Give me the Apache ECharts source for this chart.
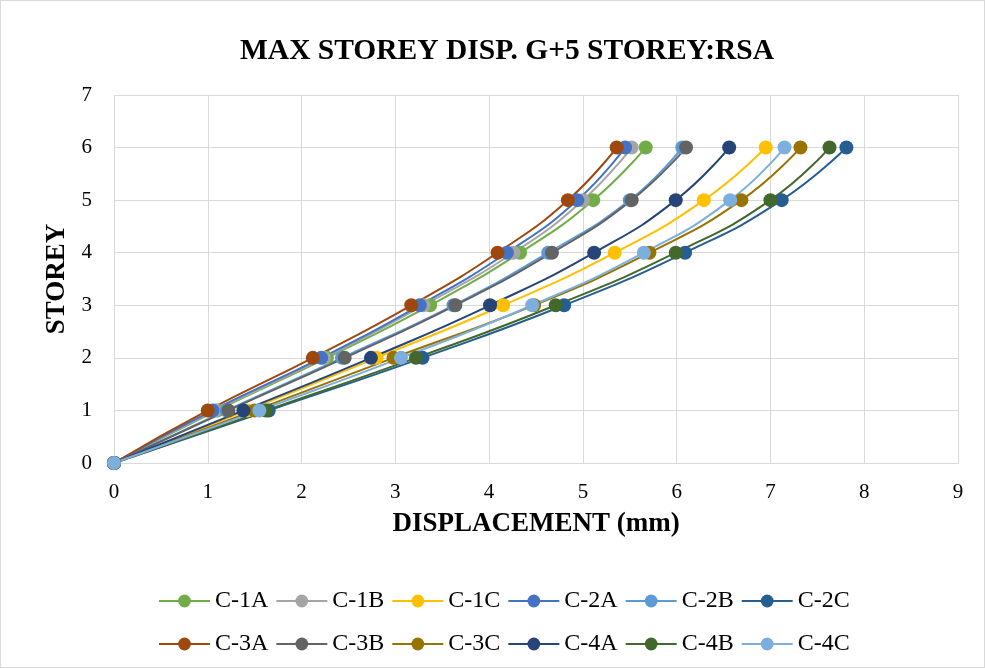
<!DOCTYPE html>
<html>
<head>
<meta charset="utf-8">
<script src="https://cdn.jsdelivr.net/npm/echarts@6/dist/echarts.min.js"></script>
<style>
html,body{margin:0;padding:0;background:#fff;}
#c{width:985px;height:668px;box-sizing:border-box;border:1px solid #d9d9d9;}
</style>
</head>
<body>
<div id="c"></div>
<script>
const storeys = [0, 1, 2, 3, 4, 5, 6];
const names = ['C-1A','C-1B','C-1C','C-2A','C-2B','C-2C','C-3A','C-3B','C-3C','C-4A','C-4B','C-4C'];
const C1A = [0, 1.10, 2.27, 3.37, 4.33, 5.11, 5.67];
const C1B = [0, 1.08, 2.24, 3.30, 4.26, 5.00, 5.52];
const C1C = [0, 1.42, 2.80, 4.15, 5.34, 6.29, 6.95];
const C2A = [0, 1.05, 2.21, 3.26, 4.19, 4.94, 5.45];
const C2B = [0, 1.20, 2.43, 3.62, 4.63, 5.50, 6.06];
const C2C = [0, 1.65, 3.29, 4.80, 6.09, 7.12, 7.81];
const C3A = [0, 1.00, 2.12, 3.17, 4.09, 4.84, 5.36];
const C3B = [0, 1.22, 2.46, 3.64, 4.67, 5.52, 6.10];
const C3C = [0, 1.50, 2.98, 4.48, 5.71, 6.69, 7.32];
const C4A = [0, 1.38, 2.74, 4.01, 5.12, 5.99, 6.56];
const C4B = [0, 1.62, 3.22, 4.71, 5.99, 7.00, 7.63];
const C4C = [0, 1.55, 3.06, 4.46, 5.65, 6.57, 7.15];
const values = [C1A, C1B, C1C, C2A, C2B, C2C, C3A, C3B, C3C, C4A, C4B, C4C];
const colors = ['#70AD47','#A5A5A5','#FFC000','#4472C4','#5B9BD5','#255E91','#9E480E','#636363','#997300','#264478','#43682B','#7CAFDD'];

const font = '"Liberation Serif","Times New Roman",serif';
const series = names.map((n, i) => ({
  name: n,
  type: 'line',
  smooth: true,
  data: values[i].map((v, k) => [v, storeys[k]]),
  symbol: 'circle',
  symbolSize: 14,
  lineStyle: { width: 2, color: colors[i] },
  itemStyle: { color: colors[i] },
  emphasis: { disabled: true }
}));

const legendCommon = {
  left: 152,
  itemWidth: 51,
  itemHeight: 16,
  itemGap: 7,
  textStyle: { fontFamily: font, fontSize: 24, color: '#000' }
};

const chart = echarts.init(document.getElementById('c'));
chart.setOption({
  animation: false,
  color: colors,
  title: {
    text: 'MAX STOREY DISP. G+5 STOREY:RSA',
    left: 501, top: 30, textAlign: 'center',
    textStyle: { fontFamily: font, fontSize: 29.5, fontWeight: 'bold', color: '#000' }
  },
  legend: [
    Object.assign({}, legendCommon, { top: 583, data: names.slice(0, 6) }),
    Object.assign({}, legendCommon, { top: 626, data: names.slice(6) })
  ],
  grid: { left: 113, right: 26, top: 94, bottom: 204, containLabel: false },
  xAxis: {
    type: 'value', min: 0, max: 9, interval: 1,
    name: 'DISPLACEMENT (mm)', nameLocation: 'middle', nameGap: 48,
    nameTextStyle: { fontFamily: font, fontSize: 27, fontWeight: 'bold', color: '#000' },
    axisLine: { show: true, lineStyle: { color: '#d9d9d9' } },
    axisTick: { show: false },
    axisLabel: { fontFamily: font, fontSize: 21, color: '#000', margin: 19 },
    splitLine: { show: true, lineStyle: { color: '#d9d9d9', width: 1 } }
  },
  yAxis: {
    type: 'value', min: 0, max: 7, interval: 1,
    name: 'STOREY', nameLocation: 'middle', nameGap: 43, nameRotate: 90,
    nameTextStyle: { fontFamily: font, fontSize: 27, fontWeight: 'bold', color: '#000' },
    axisLine: { show: false },
    axisTick: { show: false },
    axisLabel: { fontFamily: font, fontSize: 21, color: '#000', margin: 22 },
    splitLine: { show: true, lineStyle: { color: '#d9d9d9', width: 1 } }
  },
  series: series
});
</script>
</body>
</html>
